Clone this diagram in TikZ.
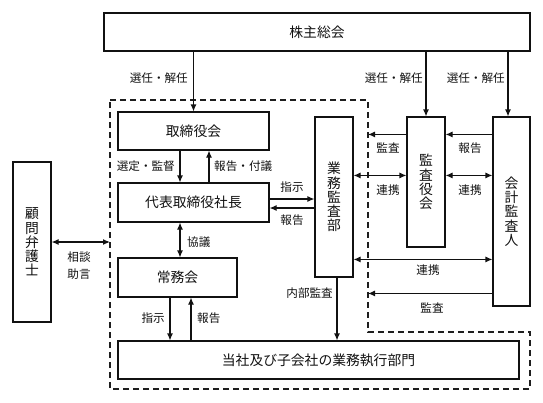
\documentclass[tikz,border=0pt]{standalone}
\usepackage{fontspec}
\setmainfont{Noto Sans CJK JP}
\usetikzlibrary{arrows.meta}
\definecolor{chartInk}{HTML}{111111}
\definecolor{chartFrame}{HTML}{1E1E1E}

\begin{document}
\begin{tikzpicture}[
    x=1pt,y=-1pt,>=Latex,
    every node/.style={align=center,inner sep=0pt,text=chartInk},
    unit/.style={draw=chartInk,fill=white,line width=1.1pt,font=\fontsize{13.8}{14}\selectfont},
    vunit/.style={unit,font=\fontsize{13.8}{14.2}\selectfont},
    lbl/.style={font=\fontsize{11.6}{17}\selectfont},
    flow/.style={-{Latex[length=7pt,width=6pt]},draw=chartInk,line width=1.1pt},
    mutual/.style={{Latex[length=7pt,width=6pt]}-{Latex[length=7pt,width=6pt]},draw=chartInk,line width=1.1pt},
    frame/.style={draw=chartFrame,line width=1.1pt,dash pattern=on 6pt off 4pt}
]
\useasboundingbox (0,0) rectangle (543,402);
% dashed company boundary
\coordinate (frameNW) at (110,100);
\coordinate (frameNE) at (368,100);
\coordinate (frameMid) at (368,332);
\coordinate (frameME) at (530,332);
\coordinate (frameSE) at (530,389);
\coordinate (frameSW) at (110,389);
\draw[frame] (frameNW) -- (frameNE) -- (frameMid) -- (frameME) -- (frameSE) -- (frameSW) -- cycle;
% boxes
\node[unit,minimum width=426,minimum height=38] (soukai) at (317,32) {株主総会};
\node[unit,minimum width=151,minimum height=38] (board) at (193.5,131) {取締役会};
\node[unit,minimum width=151,minimum height=39] (ceo) at (193.5,202.5) {代表取締役社長};
\node[unit,minimum width=119,minimum height=39] (joumu) at (177.5,277.5) {常務会};
\node[unit,minimum width=401,minimum height=38] (bumon) at (318.5,360) {当社及び子会社の業務執行部門};
\node[vunit,minimum width=38,minimum height=160] (lawyer) at (32,242) {顧\\問\\弁\\護\\士};
\node[vunit,minimum width=38,minimum height=160] (audit) at (334,197) {業\\務\\監\\査\\部};
\node[vunit,minimum width=38,minimum height=130] (kansa) at (426,182) {監\\査\\役\\会};
\node[vunit,minimum width=37,minimum height=189] (kaikei) at (511.5,211.5) {会\\計\\監\\査\\人};
% shareholders
\draw[flow] (board.north |- soukai.south) -- (board.north);
\draw[flow] (kansa.north |- soukai.south) -- (kansa.north);
\draw[flow] ([xshift=-3.5pt]kaikei.north |- soukai.south) -- ([xshift=-3.5pt]kaikei.north);
\node[lbl,anchor=east] (pickA) at (188,78) {選任・解任};
\node[lbl,anchor=east] (pickB) at (423,78) {選任・解任};
\node[lbl,anchor=east] (pickC) at (505,78) {選任・解任};
% board and ceo
\draw[flow] ([xshift=-13.5pt]board.south) -- ([xshift=-13.5pt]ceo.north);
\draw[flow] ([xshift=15.5pt]ceo.north) -- ([xshift=15.5pt]board.south);
\node[lbl,anchor=east] (superv) at (175,166) {選定・監督};
\node[lbl,anchor=west] (report) at (214,166) {報告・付議};
\draw[mutual] ([xshift=-13.5pt]ceo.south) -- ([xshift=-13.5pt]ceo.south |- joumu.north);
\node[lbl,anchor=west] (consult) at (187,242) {協議};
\draw[flow] ([xshift=-7.5pt]joumu.south) -- ([xshift=-7.5pt]joumu.south |- bumon.north);
\draw[flow] ([xshift=13.5pt]joumu.south |- bumon.north) -- ([xshift=13.5pt]joumu.south);
\node[lbl,anchor=east] (orderJ) at (165,318) {指示};
\node[lbl,anchor=west] (reportJ) at (197,318) {報告};
% ceo and internal audit
\draw[flow] ([yshift=3.5pt]ceo.east) -- ([yshift=3.5pt]ceo.east -| audit.west);
\draw[flow] ([yshift=-5.5pt]ceo.east -| audit.west) -- ([yshift=-5.5pt]ceo.east);
\node[lbl] (orderA) at (292,187) {指示};
\node[lbl] (reportA) at (292,220) {報告};
\draw[flow] ([xshift=3pt]audit.south) -- ([xshift=3pt]audit.south |- bumon.north);
\node[lbl,anchor=east] (inner) at (333,293) {内部監査};
% auditors
\coordinate (kansaTap) at ([yshift=-18pt]kansa.north west);
\draw[flow] (kansaTap) -- (kansaTap -| frameNE);
\draw[flow] ([yshift=-18pt]kaikei.north west) -- ([yshift=-18pt]kansa.north east);
\draw[mutual] ([yshift=-59pt]audit.north east) -- ([yshift=-59pt]kansa.north west);
\draw[mutual] ([yshift=-59pt]kansa.north east) -- ([yshift=-59pt]kaikei.north west);
\draw[mutual] ([yshift=-143pt]audit.north east) -- ([yshift=-143pt]kaikei.north west);
\coordinate (kaikeiTap) at ([yshift=-177pt]kaikei.north west);
\draw[flow] (kaikeiTap) -- (kaikeiTap -| frameNE);
\node[lbl] (auditK) at (388,148) {監査};
\node[lbl] (linkA) at (388,190) {連携};
\node[lbl] (reportK) at (470,148) {報告};
\node[lbl] (linkB) at (470,190) {連携};
\node[lbl] (linkC) at (428,270) {連携};
\node[lbl] (auditL) at (432,308) {監査};
% counsel
\draw[mutual] (lawyer.east) -- (lawyer.east -| frameNW);
\node[lbl] (advice) at (79,266) {相談\\助言};
\end{tikzpicture}
\end{document}
